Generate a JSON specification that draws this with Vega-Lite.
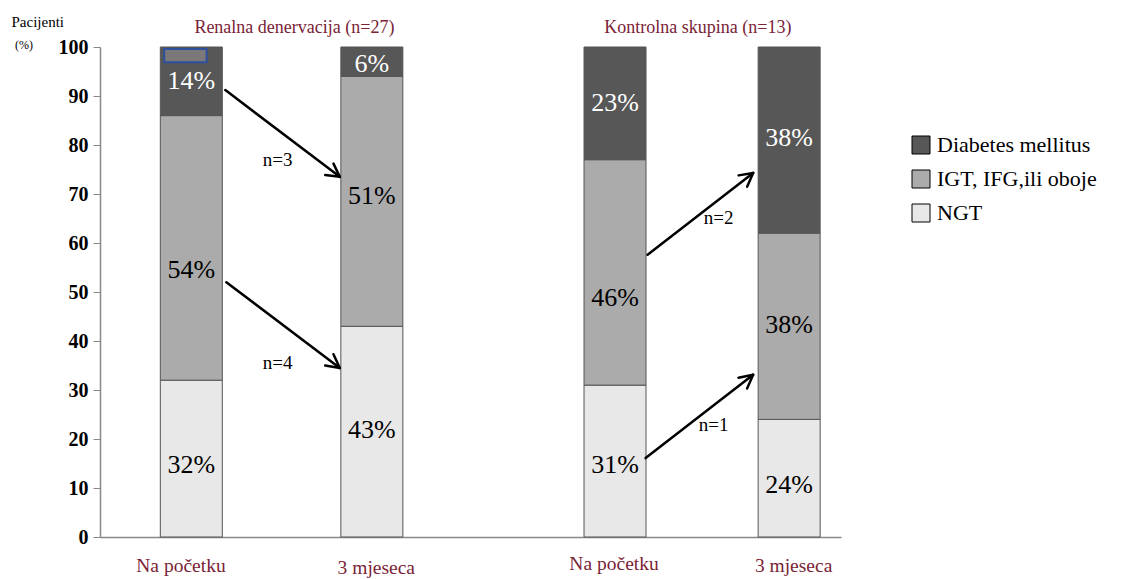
{
  "$schema": "https://vega.github.io/schema/vega-lite/v6.json",
  "width": 741,
  "height": 490,
  "autosize": {"type": "none"},
  "padding": {"left": 100, "top": 47, "right": 284, "bottom": 42},
  "background": "white",
  "config": {"view": {"stroke": null}, "font": "Times New Roman, Liberation Serif, serif"},
  "datasets": {
    "bars": [
      {"x": 87.5, "grp": "NGT", "ord": 1, "pct": 32, "ly": 14.7, "lab": "32%"},
      {"x": 87.5, "grp": "IGT, IFG,ili oboje", "ord": 2, "pct": 54, "ly": 54.5, "lab": "54%"},
      {"x": 87.5, "grp": "Diabetes mellitus", "ord": 3, "pct": 14, "ly": 93.1, "lab": "14%"},
      {"x": 270.5, "grp": "NGT", "ord": 1, "pct": 43, "ly": 21.8, "lab": "43%"},
      {"x": 270.5, "grp": "IGT, IFG,ili oboje", "ord": 2, "pct": 51, "ly": 69.6, "lab": "51%"},
      {"x": 270.5, "grp": "Diabetes mellitus", "ord": 3, "pct": 6, "ly": 96.5, "lab": "6%"},
      {"x": 517, "grp": "NGT", "ord": 1, "pct": 31, "ly": 14.7, "lab": "31%"},
      {"x": 517, "grp": "IGT, IFG,ili oboje", "ord": 2, "pct": 46, "ly": 48.8, "lab": "46%"},
      {"x": 517, "grp": "Diabetes mellitus", "ord": 3, "pct": 23, "ly": 88.6, "lab": "23%"},
      {"x": 693.5, "grp": "NGT", "ord": 1, "pct": 24, "ly": 10.6, "lab": "24%"},
      {"x": 693.5, "grp": "IGT, IFG,ili oboje", "ord": 2, "pct": 38, "ly": 43.3, "lab": "38%"},
      {"x": 693.5, "grp": "Diabetes mellitus", "ord": 3, "pct": 38, "ly": 81.4, "lab": "38%"}
    ],
    "arrows": [
      {"x": 122, "y": 91.2, "x2": 238, "y2": 73.5},
      {"x": 238, "y": 73.5, "x2": 223.2, "y2": 73.9},
      {"x": 238, "y": 73.5, "x2": 231.6, "y2": 76.2},
      {"x": 123, "y": 52.0, "x2": 238, "y2": 34.5},
      {"x": 238, "y": 34.5, "x2": 223.2, "y2": 35.0},
      {"x": 238, "y": 34.5, "x2": 231.6, "y2": 37.3},
      {"x": 550, "y": 57.6, "x2": 657, "y2": 74.3},
      {"x": 657, "y": 74.3, "x2": 650.9, "y2": 71.5},
      {"x": 657, "y": 74.3, "x2": 642.2, "y2": 73.8},
      {"x": 548, "y": 16.1, "x2": 657, "y2": 33.1},
      {"x": 657, "y": 33.1, "x2": 650.9, "y2": 30.3},
      {"x": 657, "y": 33.1, "x2": 642.2, "y2": 32.5}
    ],
    "nlabels": [
      {"x": 175, "y": 76.9, "t": "n=3"},
      {"x": 175, "y": 35.5, "t": "n=4"},
      {"x": 622, "y": 65.1, "t": "n=2"},
      {"x": 617, "y": 22.9, "t": "n=1"}
    ],
    "titles": [
      {"x": 192, "y": 103.9, "t": "Renalna denervacija (n=27)"},
      {"x": 601, "y": 103.9, "t": "Kontrolna skupina (n=13)"}
    ],
    "cats": [
      {"x": 77, "y": -5.9, "t": "Na početku"},
      {"x": 275, "y": -6.3, "t": "3 mjeseca"},
      {"x": 516, "y": -5.5, "t": "Na početku"},
      {"x": 698, "y": -5.9, "t": "3 mjeseca"}
    ],
    "unit": [
      {"x": -82, "y": 100.5, "t": "(%)"}
    ],
    "artifact": [
      {"x": 60, "x2": 103, "y": 99.6, "y2": 96.9}
    ]
  },
  "layer": [
    {
      "data": {"name": "bars"},
      "mark": {"type": "bar", "size": 62, "stroke": "#555555", "strokeWidth": 1},
      "encoding": {
        "x": {"field": "x", "type": "quantitative", "scale": {"domain": [0, 741], "nice": false, "zero": false},
              "axis": {"labels": false, "ticks": false, "title": null, "grid": false, "domainColor": "#888888", "domainWidth": 1.5}},
        "y": {"field": "pct", "type": "quantitative", "stack": "zero",
              "scale": {"domain": [0, 100], "nice": false},
              "axis": {"values": [0, 10, 20, 30, 40, 50, 60, 70, 80, 90, 100], "grid": false,
                       "domainColor": "#888888", "domainWidth": 1.5, "tickColor": "#888888", "tickSize": 7,
                       "labelFont": "Times New Roman, Liberation Serif, serif", "labelFontSize": 20, "labelFontWeight": "bold", "labelColor": "black",
                       "labelPadding": 5,
                       "title": "Pacijenti", "titleAngle": 0, "titleAlign": "left", "titleBaseline": "top",
                       "titleX": -89, "titleY": -33, "titleFont": "Times New Roman, Liberation Serif, serif", "titleFontSize": 15,
                       "titleFontWeight": "normal", "titleColor": "black"}},
        "order": {"field": "ord", "type": "quantitative"},
        "color": {"field": "grp", "type": "nominal",
                  "scale": {"domain": ["Diabetes mellitus", "IGT, IFG,ili oboje", "NGT"], "range": ["#575757", "#ababab", "#e8e8e8"]},
                  "legend": {"orient": "none", "legendX": 810, "legendY": 87, "title": null,
                             "symbolType": "square", "symbolSize": 324, "symbolStrokeColor": "black", "symbolStrokeWidth": 1,
                             "labelFont": "Times New Roman, Liberation Serif, serif", "labelFontSize": 22, "labelColor": "black", "labelOffset": 5,
                             "rowPadding": 12, "labelLimit": 300}}
      }
    },
    {
      "data": {"name": "artifact"},
      "mark": {"type": "rect", "fill": "#7a7878", "stroke": "#2f4f9f", "strokeWidth": 2},
      "encoding": {
        "x": {"field": "x", "type": "quantitative"},
        "x2": {"field": "x2"},
        "y": {"field": "y", "type": "quantitative"},
        "y2": {"field": "y2"}
      }
    },
    {
      "data": {"name": "bars"},
      "mark": {"type": "text", "font": "Times New Roman, Liberation Serif, serif", "fontSize": 26, "align": "center", "baseline": "middle"},
      "encoding": {
        "x": {"field": "x", "type": "quantitative"},
        "y": {"field": "ly", "type": "quantitative"},
        "text": {"field": "lab"},
        "color": {"condition": {"test": "datum.grp === 'Diabetes mellitus'", "value": "white"}, "value": "black"}
      }
    },
    {
      "data": {"name": "arrows"},
      "mark": {"type": "rule", "color": "black", "strokeWidth": 2.5, "strokeCap": "round"},
      "encoding": {
        "x": {"field": "x", "type": "quantitative"},
        "y": {"field": "y", "type": "quantitative"},
        "x2": {"field": "x2"},
        "y2": {"field": "y2"}
      }
    },
    {
      "data": {"name": "nlabels"},
      "mark": {"type": "text", "font": "Times New Roman, Liberation Serif, serif", "fontSize": 19, "align": "center", "baseline": "middle", "color": "black"},
      "encoding": {
        "x": {"field": "x", "type": "quantitative"},
        "y": {"field": "y", "type": "quantitative"},
        "text": {"field": "t"}
      }
    },
    {
      "data": {"name": "titles"},
      "mark": {"type": "text", "font": "Times New Roman, Liberation Serif, serif", "fontSize": 18, "align": "center", "baseline": "middle", "color": "#7a2336"},
      "encoding": {
        "x": {"field": "x", "type": "quantitative"},
        "y": {"field": "y", "type": "quantitative"},
        "text": {"field": "t"}
      }
    },
    {
      "data": {"name": "cats"},
      "mark": {"type": "text", "font": "Times New Roman, Liberation Serif, serif", "fontSize": 19.5, "align": "center", "baseline": "middle", "color": "#7a2336"},
      "encoding": {
        "x": {"field": "x", "type": "quantitative"},
        "y": {"field": "y", "type": "quantitative"},
        "text": {"field": "t"}
      }
    },
    {
      "data": {"name": "unit"},
      "mark": {"type": "text", "font": "Times New Roman, Liberation Serif, serif", "fontSize": 12, "align": "center", "baseline": "middle", "color": "black"},
      "encoding": {
        "x": {"field": "x", "type": "quantitative"},
        "y": {"field": "y", "type": "quantitative"},
        "text": {"field": "t"}
      }
    }
  ]
}
